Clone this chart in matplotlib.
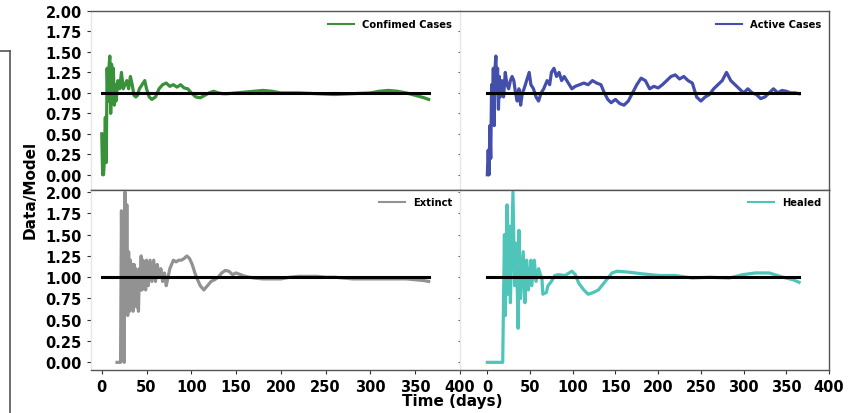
import numpy as np
import matplotlib.pyplot as plt
from matplotlib.lines import Line2D

# 数据
conf_day = [0, 1, 2, 3, 4, 5, 6, 7, 8, 9, 10, 11, 12, 13, 14, 15, 16, 18, 20, 22, 24, 26, 28, 30,
            32, 34, 36, 38, 40, 42, 45, 48, 50, 53, 56, 60, 64, 68, 72, 76, 80, 84, 88, 92, 96,
            100, 105, 110, 115, 120, 125, 130, 135, 140, 150, 160, 170, 180, 190, 200, 220, 240,
            260, 280, 300, 310, 320, 330, 340, 350, 360, 365]
conf_val = [0.5, 0.0, 0.0, 0.2, 0.7, 0.15, 1.3, 0.9, 1.3, 1.45, 0.75, 1.35, 0.9, 1.3, 0.85, 1.1, 0.9,
            1.15, 1.05, 1.25, 1.05, 1.1, 1.15, 1.05, 1.2, 1.1, 0.97, 0.95, 0.97, 1.05, 1.1, 1.15,
            1.05, 0.95, 0.92, 0.95, 1.05, 1.1, 1.12, 1.08, 1.1, 1.07, 1.1, 1.06, 1.05, 1.0, 0.95,
            0.94, 0.97, 1.0, 1.02, 1.0, 0.99, 0.99, 1.0, 1.01, 1.02, 1.03, 1.02, 1.0, 1.0, 0.99,
            0.98, 0.99, 1.0, 1.02, 1.03, 1.02, 1.0, 0.97, 0.94, 0.92]

act_day = [0, 1, 2, 3, 4, 5, 6, 7, 8, 9, 10, 11, 12, 13, 14, 15, 17, 19, 21, 23, 25, 27, 29, 31, 33,
           35, 37, 39, 41, 43, 46, 49, 51, 54, 57, 60, 63, 66, 70, 73, 75, 78, 81, 84, 87, 90, 93,
           96, 99, 103, 108, 113, 118, 123, 128, 133, 137, 141, 145, 150, 155, 160, 165, 170, 175,
           180, 185, 190, 195, 200, 205, 210, 215, 220, 225, 230, 235, 240, 245, 250, 255, 260,
           265, 270, 275, 280, 285, 290, 295, 300, 305, 310, 315, 320, 325, 330, 335, 340, 345,
           350, 355, 360, 365]
act_val = [0.0, 0.3, 0.0, 0.6, 0.2, 1.1, 0.8, 1.3, 0.6, 1.3, 1.45, 1.0, 1.3, 0.8, 1.2, 0.95, 1.15,
           0.95, 1.25, 1.1, 1.05, 1.15, 1.2, 1.15, 1.0, 0.9, 1.05, 0.85, 1.0, 1.05, 1.15, 1.25,
           1.1, 1.05, 0.95, 0.9, 1.0, 1.05, 1.15, 1.1, 1.25, 1.3, 1.2, 1.25, 1.15, 1.2, 1.15, 1.1,
           1.05, 1.08, 1.1, 1.12, 1.1, 1.15, 1.12, 1.1, 1.0, 0.92, 0.88, 0.92, 0.87, 0.85, 0.9,
           1.0, 1.1, 1.18, 1.15, 1.05, 1.08, 1.06, 1.1, 1.15, 1.2, 1.22, 1.17, 1.2, 1.15, 1.12,
           0.95, 0.9, 0.95, 0.98, 1.05, 1.1, 1.15, 1.25, 1.15, 1.1, 1.05, 1.0, 1.05, 1.0, 0.98,
           0.93, 0.95, 1.0, 1.05, 1.0, 1.03, 1.02, 1.0, 1.0, 0.99]

ext_day = [17, 20, 21, 22, 23, 24, 25, 26, 27, 28, 29, 30, 31, 32, 33, 34, 35, 36, 37, 38, 39, 40,
           41, 42, 43, 44, 45, 46, 47, 48, 49, 50, 52, 54, 56, 58, 60, 62, 64, 66, 68, 70, 72, 74,
           76, 78, 80, 83, 86, 89, 92, 95, 98, 101, 104, 107, 110, 114, 118, 122, 126, 130, 134,
           138, 142, 146, 150, 155, 160, 170, 180, 190, 200, 210, 220, 230, 240, 250, 260, 270,
           280, 290, 300, 310, 320, 330, 340, 350, 360, 365]
ext_val = [0.0, 0.0, 0.0, 1.78, 0.5, 1.5, 0.0, 2.0, 0.6, 1.85, 0.55, 1.3, 0.6, 1.2, 0.7, 1.15, 0.6,
           1.15, 0.75, 1.1, 0.65, 1.05, 0.6, 1.1, 0.85, 1.25, 0.85, 1.2, 0.9, 1.15, 0.85, 1.2, 0.9,
           1.2, 0.95, 1.2, 0.95, 1.15, 1.0, 1.1, 0.95, 1.05, 0.9, 1.0, 1.1, 1.15, 1.2, 1.18, 1.2,
           1.2, 1.22, 1.25, 1.22, 1.15, 1.05, 0.97, 0.9, 0.85, 0.9, 0.95, 0.97, 1.0, 1.05, 1.08,
           1.07, 1.03, 1.05, 1.03, 1.01, 0.99, 0.98, 0.98, 0.98, 1.0, 1.01, 1.01, 1.01, 1.0, 1.0,
           0.99, 0.98, 0.98, 0.98, 0.98, 0.98, 0.98, 0.98, 0.97, 0.96, 0.95]

heal_day = [0, 18, 20, 21, 23, 24, 26, 27, 30, 32, 34, 36, 37, 39, 42, 44, 46, 48, 51, 52, 55, 57,
            60, 64, 65, 69, 71, 75, 79, 83, 91, 99, 103, 107, 113, 118, 124, 130, 138, 142, 146,
            152, 165, 181, 201, 220, 240, 260, 283, 299, 314, 330, 346, 358, 365]
heal_val = [0.0, 0.0, 1.5, 0.55, 1.85, 0.8, 1.6, 0.7, 2.0, 0.9, 1.4, 0.4, 1.55, 0.75, 1.3, 0.7,
            1.2, 0.85, 1.2, 0.9, 1.2, 0.95, 1.1, 0.97, 0.8, 0.82, 0.9, 0.95, 1.02, 1.03, 1.02,
            1.07, 1.03, 0.93, 0.85, 0.8, 0.82, 0.85, 0.95, 1.0, 1.05, 1.07, 1.06, 1.04, 1.02, 1.02,
            0.99, 1.0, 0.99, 1.03, 1.05, 1.05, 1.0, 0.97, 0.94]

ref_day = [0, 365]
ref_val = [1.0, 1.0]

series = [
    (conf_day, conf_val, '#2e8b2e', 'Confimed Cases'),
    (act_day, act_val, '#3a45a8', 'Active Cases'),
    (ext_day, ext_val, '#8c8c8c', 'Extinct'),
    (heal_day, heal_val, '#45c2b6', 'Healed'),
]

fig = plt.figure(figsize=(8.59, 4.14), dpi=100)

W, H = 859.0, 414.0
boxes = [
    (91, 12, 460, 190.5),
    (460, 12, 829, 190.5),
    (91, 190.5, 460, 371),
    (460, 190.5, 829, 371),
]
xlims = [(-12, 400), (-32, 400), (-12, 400), (-32, 400)]
ylims = [(-0.18, 2.0), (-0.18, 2.0), (-0.09, 2.03), (-0.09, 2.03)]

for i, (x, y, c, lab) in enumerate(series):
    x0, y0, x1, y1 = boxes[i]
    ax = fig.add_axes([x0 / W, 1 - y1 / H, (x1 - x0) / W, (y1 - y0) / H])
    ax.plot(x, y, color=c, lw=2.3, alpha=0.95, label=lab)
    ax.plot(ref_day, ref_val, color='black', lw=2.2)
    ax.set_xlim(*xlims[i])
    ax.set_ylim(*ylims[i])
    ax.set_yticks(np.arange(0, 2.01, 0.25))
    ax.set_xticks(np.arange(0, 401, 50))
    ax.tick_params(length=3, width=0.8, colors='#333333', labelcolor='black')

    for side in ['top', 'right', 'bottom', 'left']:
        ax.spines[side].set_color('#555555')
        ax.spines[side].set_linewidth(1.0)
    ax.spines['left'].set_color('#e6e6e6')
    if i % 2 == 0:
        ax.spines['right'].set_visible(False)

    if i % 2 == 1:
        ax.set_yticklabels([])
        ax.tick_params(axis='y', length=1.5, colors='#555555')
    else:
        for t in ax.get_yticklabels():
            t.set_fontsize(10.5)
            t.set_fontweight('bold')
    if i < 2:
        ax.tick_params(axis='x', bottom=False, labelbottom=False)
    else:
        for t in ax.get_xticklabels():
            t.set_fontsize(10.5)
            t.set_fontweight('bold')

    leg = ax.legend(loc='upper right', frameon=False, handlelength=2.6,
                    prop={'weight': 'bold', 'size': 7.2}, borderaxespad=0.4)
    for ln in leg.get_lines():
        ln.set_linewidth(1.5)

fig.text(30 / W, 1 - 190 / H, 'Data/Model', rotation=90, ha='center', va='center',
         fontsize=11, fontweight='bold')
fig.text(452 / W, 1 - 402 / H, 'Time (days)', ha='center', va='center',
         fontsize=11, fontweight='bold')

# 左侧的括号线
fig.add_artist(Line2D([10 / W, 10 / W], [1 - 52 / H, 0], color='#555555', lw=1.2))
fig.add_artist(Line2D([0, 10 / W], [1 - 52 / H, 1 - 52 / H], color='#555555', lw=1.2))

plt.savefig('out.png', dpi=100)
